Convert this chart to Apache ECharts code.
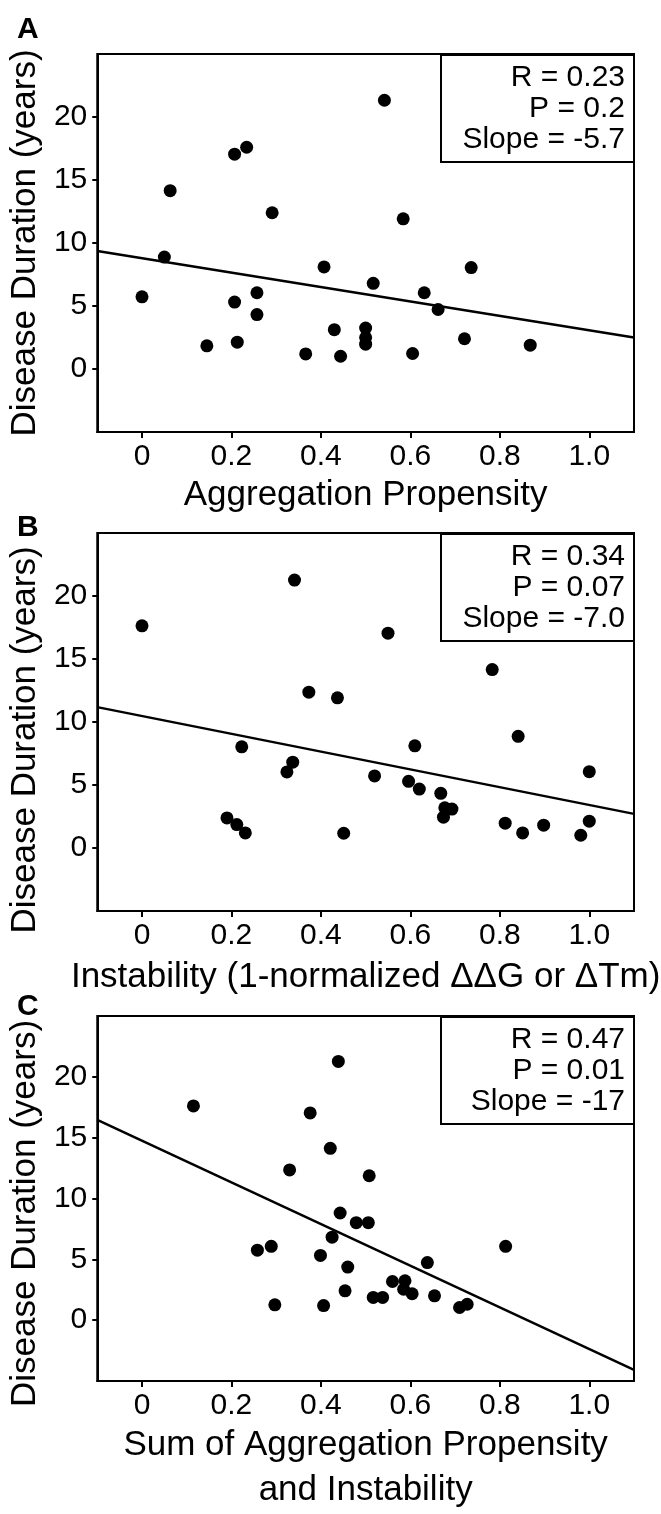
<!DOCTYPE html>
<html>
<head>
<meta charset="utf-8">
<script src="https://cdn.jsdelivr.net/npm/echarts@6/dist/echarts.min.js"></script>
<style>
  html, body { margin: 0; padding: 0; background: #fff; }
  #chart { width: 661px; height: 1514px; }
</style>
</head>
<body>
<div id="chart"></div>
<script>
// tick labels
const xTicks = [0, 0.2, 0.4, 0.6, 0.8, 1.0]
const yTicks = [0, 5, 10, 15, 20]

// A: aggregation propensity vs disease duration
const aggX = [0.542, 0.207, 0.234, 0.063, 0.291, 0.584, 0.05, 0.407, 0.736, 0.517, 0, 0.257, 0.631, 0.207, 0.257, 0.662, 0.43, 0.5, 0.5, 0.5, 0.721, 0.213, 0.145, 0.868, 0.366, 0.605, 0.444]
const aggY = [21.33, 17.05, 17.6, 14.15, 12.4, 11.92, 8.88, 8.1, 8.05, 6.8, 5.73, 6.05, 6.05, 5.31, 4.32, 4.72, 3.12, 3.25, 2.5, 1.97, 2.4, 2.13, 1.84, 1.89, 1.2, 1.23, 1.01]
const fitA = [[-0.1, 9.36], [1.1, 2.5]]
const statsA = ['R = 0.23', 'P = 0.2', 'Slope = -5.7']

// B: instability
const instX = [0, 0.341, 0.55, 0.783, 0.373, 0.437, 0.841, 0.223, 0.61, 0.337, 0.324, 1.0, 0.52, 0.596, 0.62, 0.668, 0.677, 0.693, 0.674, 0.19, 0.212, 0.231, 0.451, 0.812, 0.851, 0.898, 0.981, 1.0]
const instY = [17.63, 21.26, 17.05, 14.16, 12.37, 11.92, 8.86, 8.03, 8.11, 6.81, 6.04, 6.06, 5.72, 5.29, 4.68, 4.34, 3.19, 3.09, 2.45, 2.39, 1.86, 1.2, 1.17, 1.97, 1.2, 1.81, 1.01, 2.13]
const fitB = [[-0.1, 11.18], [1.1, 2.71]]
const statsB = ['R = 0.34', 'P = 0.07', 'Slope = -7.0']

// C: sum of both
const sumX = [0.439, 0.115, 0.376, 0.421, 0.33, 0.508, 0.443, 0.479, 0.506, 0.425, 0.258, 0.289, 0.813, 0.399, 0.46, 0.638, 0.56, 0.588, 0.585, 0.604, 0.454, 0.517, 0.538, 0.654, 0.297, 0.406, 0.71, 0.727]
const sumY = [21.27, 17.61, 17.03, 14.12, 12.35, 11.87, 8.81, 8.01, 8.01, 6.82, 5.75, 6.07, 6.07, 5.32, 4.36, 4.73, 3.18, 3.24, 2.54, 2.17, 2.41, 1.87, 1.87, 2.0, 1.26, 1.2, 1.04, 1.31]
const fitC = [[-0.1, 16.46], [1.1, -4.09]]
const statsC = ['R = 0.47', 'P = 0.01', 'Slope = -17']

const FONT = '"Liberation Sans", Arial, Helvetica, sans-serif'

const panels = [
  { letter: 'A', top: 54, letterTop: 10, yNamePad: 0, xs: aggX, ys: aggY, fit: fitA, stats: statsA, name: 'Aggregation Propensity', nameGap: 37 },
  { letter: 'B', top: 533, letterTop: 508, yNamePad: 36, xs: instX, ys: instY, fit: fitB, stats: statsB, name: 'Instability (1-normalized \u0394\u0394G or \u0394Tm)', nameGap: 44 },
  { letter: 'C', top: 1016, letterTop: 987, yNamePad: 30, xs: sumX, ys: sumY, fit: fitC, stats: statsC, name: 'Sum of Aggregation Propensity\nand Instability', nameGap: 42 },
]

const grid = [], xAxis = [], yAxis = [], series = [], title = []

panels.forEach((p, i) => {
  grid.push({
    left: 93, right: 27, top: p.top, height: 378,
    show: true, borderColor: '#000', borderWidth: 2, backgroundColor: 'transparent',
  })
  xAxis.push({
    type: 'value', gridIndex: i, min: -0.1, max: 1.1,
    name: p.name, nameLocation: 'middle', nameGap: p.nameGap,
    nameTextStyle: { fontSize: 35, color: '#000', fontFamily: FONT, lineHeight: 45 },
    axisLine: { show: true, onZero: false, lineStyle: { color: '#000', width: 2 } },
    axisTick: { show: true, length: 6, customValues: xTicks, lineStyle: { color: '#000', width: 2 } },
    axisLabel: {
      customValues: xTicks, fontSize: 30, color: '#000', fontFamily: FONT, margin: 10,
      formatter: (v) => (v === 0 ? '0' : v.toFixed(1)),
    },
    splitLine: { show: false },
  })
  yAxis.push({
    type: 'value', gridIndex: i, min: -5, max: 25,
    name: 'Disease Duration (years)', nameLocation: 'middle', nameGap: 44, nameRotate: 90,
    nameTextStyle: { fontSize: 35, color: '#000', fontFamily: FONT, padding: [0, p.yNamePad, 0, 0] },
    axisLine: { show: true, onZero: false, lineStyle: { color: '#000', width: 2 } },
    axisTick: { show: true, length: 5, customValues: yTicks, lineStyle: { color: '#000', width: 2 } },
    axisLabel: { customValues: yTicks, fontSize: 30, color: '#000', fontFamily: FONT, margin: 10 },
    splitLine: { show: false },
  })
  series.push({
    type: 'scatter', xAxisIndex: i, yAxisIndex: i,
    symbolSize: 13, itemStyle: { color: '#000', opacity: 1 },
    data: p.xs.map((x, k) => [x, p.ys[k]]),
  })
  series.push({
    type: 'line', xAxisIndex: i, yAxisIndex: i,
    showSymbol: false, silent: true,
    lineStyle: { color: '#000', width: 2.5 },
    data: p.fit,
  })
  title.push({
    text: p.letter, left: 12, top: p.letterTop,
    textStyle: { fontSize: 30, fontWeight: 'bold', color: '#000', fontFamily: FONT },
  })
  // stats box in the top right corner, lines right-aligned
  title.push({
    text: p.stats.map((s) => '{r|' + s + '}').join('\n'),
    right: 27, top: p.top,
    padding: [8, 9, 8, 20], borderColor: '#000', borderWidth: 2,
    textStyle: {
      fontWeight: 'normal',
      rich: { r: { width: 164, align: 'right', fontSize: 30, lineHeight: 31, fontWeight: 'normal', color: '#000', fontFamily: FONT } },
    },
  })
})

const chart = echarts.init(document.getElementById('chart'), null, { renderer: 'canvas' })
chart.setOption({
  animation: false,
  backgroundColor: '#fff',
  title, grid, xAxis, yAxis, series,
})
</script>
</body>
</html>
